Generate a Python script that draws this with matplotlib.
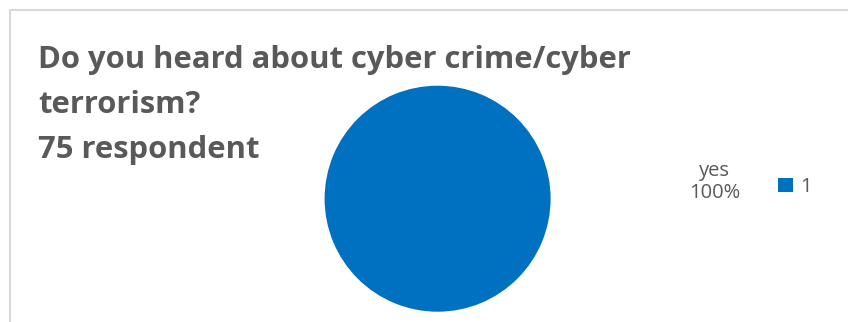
import matplotlib.pyplot as plt
from matplotlib.patches import Rectangle

title_lines = ["Do you heard about cyber crime/cyber", "terrorism?", "75 respondent"]
categories = ["yes"]
counts = [75]
legend_labels = ["1"]

W, H = 848, 322
fig = plt.figure(figsize=(W / 100, H / 100), dpi=100)
fig.patch.set_facecolor("white")

# chart area frame (runs off the right and bottom edges)
fig.patches.append(Rectangle((10 / W, -0.1), 1.2, (H - 10) / H + 0.1,
                             transform=fig.transFigure, fill=False,
                             edgecolor="#d9d9d9", linewidth=1.5))

gray = "#595959"
for line, base in zip(title_lines, [68, 113, 158]):
    fig.text(38 / W, 1 - base / H, line, fontsize=22.3, fontweight="bold",
             family="Open Sans", color=gray, va="baseline", ha="left")

# pie axes: centre (437.6, 198.7) px, radius 113 px
r = 113
cx, cy = 437.6, 198.7
ax = fig.add_axes([(cx - r) / W, 1 - (cy + r) / H, 2 * r / W, 2 * r / H])
wedges, _ = ax.pie(counts, colors=["#0070c0"], startangle=90, radius=1,
                   wedgeprops=dict(linewidth=0))
ax.set_xlim(-1, 1)
ax.set_ylim(-1, 1)
ax.set_aspect("equal")

total = sum(counts)
for cat, c in zip(categories, counts):
    ax.text(2.45, 0.15, f"{cat}\n{c / total:.0%}", ha="center", va="center",
            fontsize=14.5, family="Open Sans", color=gray, linespacing=1.1,
            clip_on=False)

fig.legend(wedges, legend_labels, loc="center left",
           bbox_to_anchor=(778 / W, 1 - 187 / H), frameon=False,
           prop=dict(family="Open Sans", size=14.5), labelcolor=gray,
           handlelength=0.75, handleheight=0.75, handletextpad=0.35,
           borderpad=0, borderaxespad=0)

fig.savefig("out.png", dpi=100)
